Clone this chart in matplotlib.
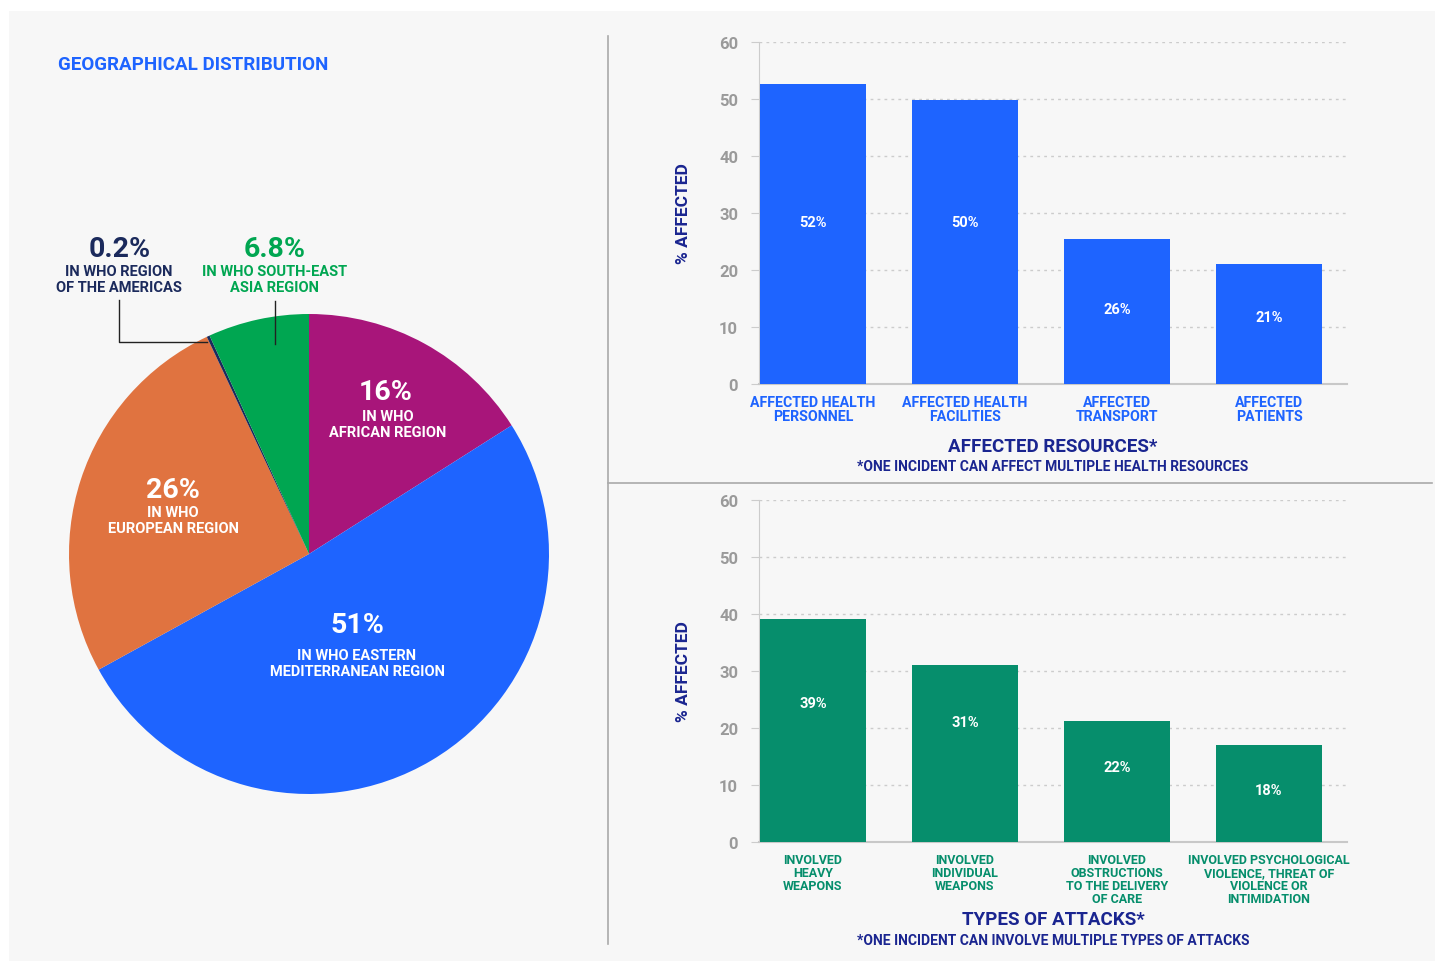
#!/usr/bin/env python3

import matplotlib.pyplot as plt
from matplotlib.patches import Rectangle
from matplotlib.lines import Line2D

plt.rcParams['font.family'] = ['Roboto', 'DejaVu Sans']
plt.rcParams['font.weight'] = 'bold'
plt.rcParams['axes.labelweight'] = 'bold'

# Pie data: geographical distribution (clockwise from the top)
regions = ['AFRICAN', 'EASTERN MEDITERRANEAN', 'EUROPEAN', 'AMERICAS', 'SOUTH-EAST ASIA']
shares = [16, 51, 26, 0.2, 6.8]
share_labels = ['16%', '51%', '26%', '0.2%', '6.8%']
region_texts = ['IN WHO\nAFRICAN REGION',
                'IN WHO EASTERN\nMEDITERRANEAN REGION',
                'IN WHO\nEUROPEAN REGION',
                'IN WHO REGION\nOF THE AMERICAS',
                'IN WHO SOUTH-EAST\nASIA REGION']

# Top bars: affected resources
resource_cats = ['AFFECTED HEALTH\nPERSONNEL', 'AFFECTED HEALTH\nFACILITIES',
                 'AFFECTED\nTRANSPORT', 'AFFECTED\nPATIENTS']
resource_vals = [52.7, 49.9, 25.5, 21.1]
resource_labels = ['52%', '50%', '26%', '21%']

# Bottom bars: types of attacks
attack_cats = ['INVOLVED\nHEAVY\nWEAPONS', 'INVOLVED\nINDIVIDUAL\nWEAPONS',
               'INVOLVED\nOBSTRUCTIONS\nTO THE DELIVERY\nOF CARE',
               'INVOLVED PSYCHOLOGICAL\nVIOLENCE, THREAT OF\nVIOLENCE OR\nINTIMIDATION']
attack_vals = [39.1, 31.1, 21.3, 17.1]
attack_labels = ['39%', '31%', '22%', '18%']

y_ticks = [0, 10, 20, 30, 40, 50, 60]

# colours
BLUE = '#1e64ff'
MAGENTA = '#a8157a'
ORANGE = '#e07340'
NAVY = '#1b2a5c'
GREEN = '#00a651'
BAR_GREEN = '#068e6c'
TITLE_NAVY = '#1a2590'
GREY = '#9a9a9a'

W, H = 1435, 962


def fx(px):
    return px / W


def fy(py):
    return 1 - py / H


fig = plt.figure(figsize=(W / 100, H / 100), dpi=100)
fig.patch.set_facecolor('white')
fig.patches.append(Rectangle((fx(9), 0), 1 - fx(9), fy(12), transform=fig.transFigure,
                             facecolor='#f7f7f7', edgecolor='none', zorder=-10))

# divider lines
fig.add_artist(Line2D([fx(608), fx(608)], [fy(37), fy(945)], color='#aaaaaa', lw=1.2))
fig.add_artist(Line2D([fx(608), fx(1432)], [fy(484), fy(484)], color='#aaaaaa', lw=1.2))

fig.text(fx(58), fy(65), 'GEOGRAPHICAL DISTRIBUTION', color=BLUE, fontsize=13.5,
         va='center', ha='left')

# ---- pie ----
cx, cy, r = 309, 555, 240
pax = fig.add_axes([fx(cx - r), fy(cy + r), (2 * r) / W, (2 * r) / H])
pax.pie(shares, colors=[MAGENTA, BLUE, ORANGE, NAVY, GREEN], startangle=90,
        counterclock=False, radius=1, wedgeprops=dict(linewidth=0))
pax.set_xlim(-1, 1)
pax.set_ylim(-1, 1)
pax.axis('off')


def pd(px, py):
    return (px - cx) / r, (cy - py) / r


# label positions (pixel centers): percent, sub text, colour
pie_pos = [((386, 393), (388, 425), 'white'),
           ((357, 626), (357, 664), 'white'),
           ((173, 491), (173, 521), 'white'),
           ((120, 250), (119, 280), NAVY),
           ((275, 250), (275, 280), GREEN)]
for lab, txt, (p1, p2, col) in zip(share_labels, region_texts, pie_pos):
    pax.text(*pd(*p1), lab, ha='center', va='center', fontsize=20.5, color=col, clip_on=False)
    pax.text(*pd(*p2), txt, ha='center', va='center', fontsize=10.5, color=col,
             linespacing=1.1, clip_on=False)

# leader lines
xs, ys = zip(*[pd(119, 301), pd(119, 343), pd(207, 343)])
pax.plot(xs, ys, color='#222222', lw=1, clip_on=False)
xs, ys = zip(*[pd(275, 302), pd(275, 345)])
pax.plot(xs, ys, color='#222222', lw=1, clip_on=False)


# ---- bars ----
def bar_panel(top_px, vals, labels, cats, color, cat_color, label_y, cat_fs, cat_ls):
    ax = fig.add_axes([fx(759), fy(top_px + 342), fx(1347) - fx(759), 342 / H])
    ax.set_facecolor('none')
    x = range(len(vals))
    ax.bar(x, vals, width=0.7, color=color, zorder=3)
    for xi, lab, ly in zip(x, labels, label_y):
        ax.text(xi, ly, lab, ha='center', va='center', color='white', fontsize=10.5, zorder=4)
    ax.set_xlim(-0.355, 3.513)
    ax.set_ylim(0, 60)
    ax.set_yticks(y_ticks)
    ax.yaxis.grid(True, linestyle=(0, (2, 3)), color='#cccccc', lw=1)
    ax.set_axisbelow(True)
    for s in ['top', 'right']:
        ax.spines[s].set_visible(False)
    ax.spines['left'].set_color('#cccccc')
    ax.spines['bottom'].set_color('#c8c8c8')
    ax.spines['bottom'].set_linewidth(1.5)
    ax.tick_params(axis='y', length=6, color='#cccccc', labelcolor=GREY, labelsize=12, pad=9)
    ax.tick_params(axis='x', length=0, pad=8)
    ax.set_xticks(list(x))
    ax.set_xticklabels(cats, color=cat_color, fontsize=cat_fs, linespacing=cat_ls, va='top')
    ax.set_ylabel('% AFFECTED', color=TITLE_NAVY, fontsize=12.5, labelpad=20)
    return ax


bar_panel(43, resource_vals, resource_labels, resource_cats, BLUE, BLUE,
          [28.4, 28.4, 13.2, 11.7], 10.2, 1.0)
bar_panel(501, attack_vals, attack_labels, attack_cats, BAR_GREEN, BAR_GREEN,
          [24.4, 21.0, 13.2, 9.1], 9, 0.98)

fig.text(fx(1053), fy(447), 'AFFECTED RESOURCES*', ha='center', va='center',
         color=TITLE_NAVY, fontsize=13.5)
fig.text(fx(1053), fy(467), '*ONE INCIDENT CAN AFFECT MULTIPLE HEALTH RESOURCES',
         ha='center', va='center', color=TITLE_NAVY, fontsize=10)
fig.text(fx(1053), fy(920), 'TYPES OF ATTACKS*', ha='center', va='center',
         color=TITLE_NAVY, fontsize=13.5)
fig.text(fx(1053), fy(941), '*ONE INCIDENT CAN INVOLVE MULTIPLE TYPES OF ATTACKS',
         ha='center', va='center', color=TITLE_NAVY, fontsize=10)

fig.savefig('out.png', dpi=100, facecolor=fig.get_facecolor())
